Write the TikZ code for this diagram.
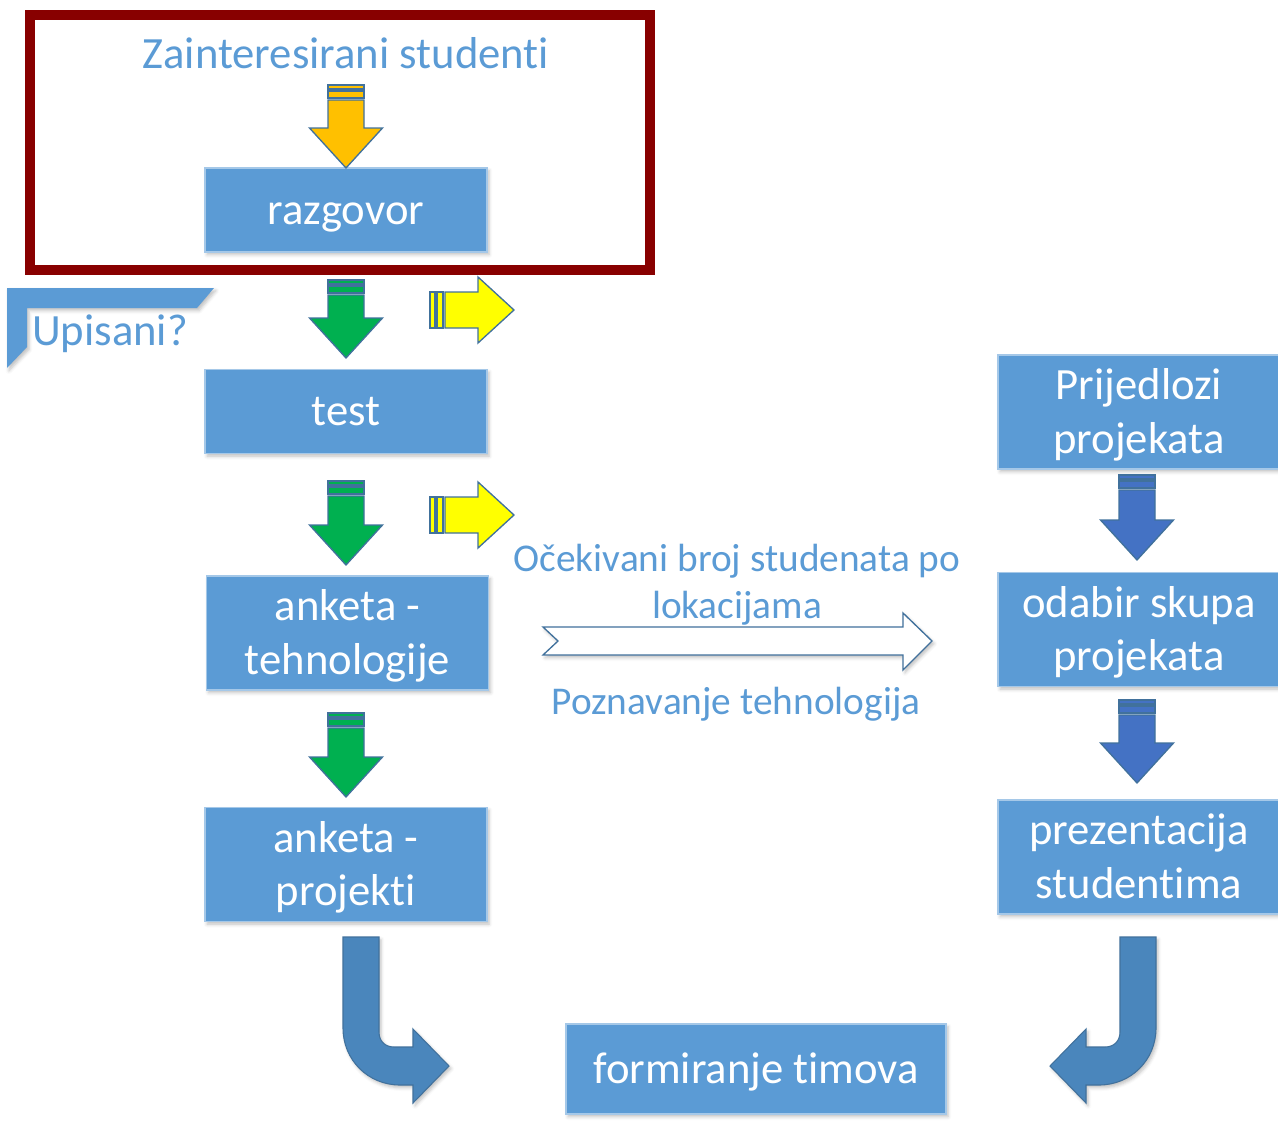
\documentclass[tikz,border=0pt]{standalone}
\usepackage{fontspec}
\setmainfont[Ligatures=NoCommon]{Carlito}
\usetikzlibrary{shadows.blur}

\definecolor{boxblue}{HTML}{5B9BD5}
\definecolor{edgeblue}{HTML}{41719C}
\definecolor{framered}{HTML}{880000}
\definecolor{arrorange}{HTML}{FFC000}
\definecolor{arrgreen}{HTML}{00B050}
\definecolor{arryellow}{HTML}{FFFF00}
\definecolor{arrblue}{HTML}{4472C4}
\definecolor{bentblue}{HTML}{4A86BC}

\newcommand\boxfont{\fontsize{33.5}{40}\selectfont}
\newcommand\notefont{\fontsize{29.5}{35.25}\selectfont}
% line strut that keeps the lowercase letters centred in a box
\newcommand\bstrut{\rule[-9.2pt]{0pt}{40pt}}

% striped block arrow pointing down: centre x, top y, tip y, fill colour
\newcommand\stripedown[4]{%
  \begin{scope}[blockarrow, fill=#4]
    \filldraw (#1-18,#2) rectangle (#1+18,#2+4);
    \filldraw (#1-18,#2+6) rectangle (#1+18,#2+13);
    \filldraw (#1-18,#2+15) -- (#1+18,#2+15) -- (#1+18,#3-40) -- (#1+36.5,#3-40)
      -- (#1,#3) -- (#1-36.5,#3-40) -- (#1-18,#3-40) -- cycle;
  \end{scope}}
% striped block arrow pointing right: left x, centre y, tip x, fill colour
\newcommand\striperight[4]{%
  \begin{scope}[blockarrow, fill=#4]
    \filldraw (#1,#2-18) rectangle (#1+5,#2+18);
    \filldraw (#1+7,#2-18) rectangle (#1+13,#2+18);
    \filldraw (#1+15,#2-18) -- (#3-36,#2-18) -- (#3-36,#2-33) -- (#3,#2)
      -- (#3-36,#2+33) -- (#3-36,#2+18) -- (#1+15,#2+18) -- cycle;
  \end{scope}}

\begin{document}
\begin{tikzpicture}[x=0.75pt,y=-0.75pt,
  softshadow/.style={blur shadow={shadow xshift=1.5pt,shadow yshift=-2pt,
      shadow opacity=25,shadow blur radius=2.5pt}},
  stepbox/.style={fill=boxblue,draw=boxblue!55!white,line width=0.8pt,
      text=white,font=\boxfont,align=center,inner sep=0pt,
      minimum width=211.5pt,softshadow},
  shortbox/.style={stepbox,minimum height=63pt},
  tallbox/.style={stepbox,minimum height=85.5pt},
  blockarrow/.style={draw=edgeblue,line width=1pt,line join=miter,softshadow},
  bentarrow/.style={fill=bentblue,draw=edgeblue,line width=0.8pt,softshadow},
  note/.style={text=boxblue,font=\notefont,inner sep=0pt,anchor=base},
]
\useasboundingbox (0,0) rectangle (1278,1125);

% left column of steps
\node[shortbox] (razgovor) at (346,210) {\bstrut razgovor};
\node[shortbox] (test) at (346,411.5) {\bstrut test};
\node[tallbox] (tehn) at (347.5,633) {\bstrut anketa -\\\bstrut tehnologije};
\node[tallbox] (proj) at (346,864.5) {\bstrut anketa -\\\bstrut projekti};

% right column of steps
\node[tallbox] (prijedlozi) at (1139,412) {\bstrut Prijedlozi\\\bstrut projekata};
\node[tallbox] (odabir) at (1139,629.5) {\bstrut odabir skupa\\\bstrut projekata};
\node[tallbox] (prez) at (1139,857) {\bstrut prezentacija\\\bstrut studentima};

% final step
\node[stepbox,minimum width=285pt,minimum height=67.5pt] (timovi) at (756,1069)
  {\bstrut formiranje timova};

% heading inside the frame
\node[note,font=\boxfont] (zainteresirani) at (346,68) {Zainteresirani studenti};

% corner tag
\fill[boxblue,softshadow] (7,288) -- (214,288) -- (197,308) -- (27,308)
  -- (27,347) -- (7,368) -- cycle;
\node[note,font=\boxfont,anchor=base west] (upisani) at (32,345) {Upisani?};

% striped arrows
\stripedown{346}{85}{168}{arrorange}
\stripedown{346}{280}{358}{arrgreen}
\stripedown{346}{481}{565}{arrgreen}
\stripedown{346}{713}{797}{arrgreen}
\stripedown{1137}{475}{560}{arrblue}
\stripedown{1137}{700}{783}{arrblue}
\striperight{430}{310}{514}{arryellow}
\striperight{430}{515}{514}{arryellow}

% notched hollow arrow between the columns
\filldraw[fill=white,draw=edgeblue,line width=1pt,softshadow]
  (543,627) -- (903,627) -- (903,613) -- (932,641) -- (903,670)
  -- (903,655) -- (543,655) -- (558,641) -- cycle;
\node[note] (ocekivani) at (737,571) {Očekivani broj studenata po};
\node[note] (lokacije) at (737,618) {lokacijama};
\node[note] (poznavanje) at (736,714) {Poznavanje tehnologija};

% bent arrows leading to the final step
\filldraw[bentarrow] (343,937) -- (379,937) -- (379,1032)
  .. controls (379,1041) and (385,1047) .. (394,1047) -- (413,1047)
  -- (413,1029) -- (449,1066) -- (413,1103) -- (413,1085) -- (400,1085)
  .. controls (368,1085) and (343,1060) .. (343,1028) -- cycle;
\filldraw[bentarrow] (1156,937) -- (1120,937) -- (1120,1032)
  .. controls (1120,1041) and (1114,1047) .. (1105,1047) -- (1086,1047)
  -- (1086,1029) -- (1050,1066) -- (1086,1103) -- (1086,1085) -- (1099,1085)
  .. controls (1131,1085) and (1156,1060) .. (1156,1028) -- cycle;

% frame around the first stage
\draw[framered,line width=7.5pt] (30,15) rectangle (650,270);
\end{tikzpicture}
\end{document}
